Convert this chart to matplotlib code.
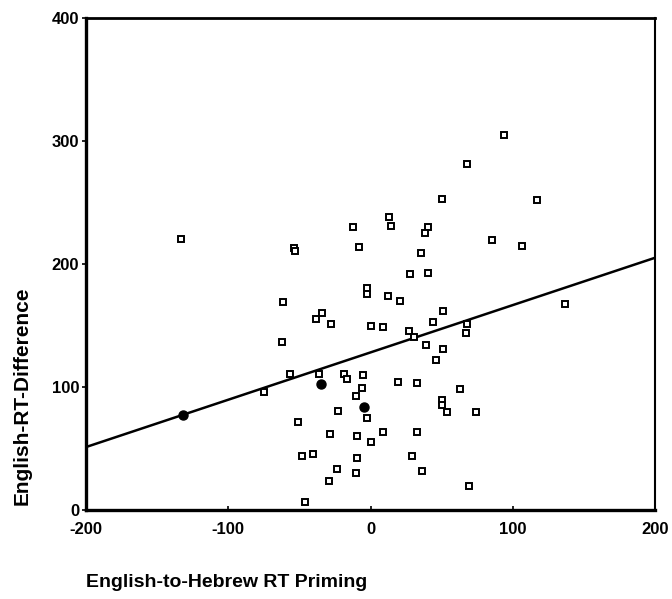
"""Scatter of English RT difference against English-to-Hebrew RT priming,
with the fitted regression line."""

import matplotlib
matplotlib.use("Agg")
import matplotlib.pyplot as plt
import numpy as np

plt.rcParams["font.family"] = ["Liberation Sans", "DejaVu Sans"]

# open-square subjects
priming = [
    -133.2, -53.8, -53.1, -12.3, -8.1, 13.0, 14.4, 93.9, 67.8, 50.3,
    117.1, 40.4, 38.3, 85.4, 106.5, 35.5, 27.8, 40.4, -2.5, -2.5,
    12.3, 20.7, -61.5, -34.1, -38.3, -27.8, 0.4, 8.8, 51.0, 43.9,
    67.8, 67.1, 27.1, 30.6, 39.0, 51.0, 46.1, -62.2, 136.7, -56.6,
    -36.2, -18.6, -16.5, -5.3, -6.0, -10.2, -2.5, -22.8, -74.9, 19.3,
    32.7, 62.9, 50.3, 50.3, 53.8, 74.2, -51.0, -28.5, -9.5, 0.4,
    8.8, 32.7, -48.2, -40.4, -9.5, 29.2, -23.5, -10.2, 36.2, -29.2,
    -46.0, 69.2,
]
rt_diff = [
    220.3, 212.6, 210.2, 230.1, 213.8, 238.2, 230.9, 304.9, 281.3, 252.8,
    252.0, 230.1, 225.2, 219.5, 214.6, 208.9, 191.9, 192.7, 180.5, 175.6,
    174.0, 169.9, 169.1, 160.2, 155.3, 151.2, 149.6, 148.8, 161.8, 152.8,
    151.2, 143.9, 145.5, 140.6, 134.1, 130.9, 122.0, 136.6, 167.5, 110.6,
    110.6, 110.6, 106.5, 109.8, 99.2, 92.7, 74.8, 80.5, 95.9, 104.1,
    103.3, 98.4, 89.4, 85.4, 79.7, 79.7, 71.5, 61.8, 60.2, 55.3,
    63.4, 63.4, 43.9, 45.5, 42.3, 43.9, 33.3, 30.1, 31.7, 23.6,
    6.5, 19.5,
]

# filled markers
filled_priming = [-131.8, -34.8, -4.6]
filled_rt_diff = [77.2, 102.4, 83.7]

# regression line end points
fit_x = [-200, 200]
fit_y = [51, 205]

x_ticks = [-200, -100, 0, 100, 200]
y_ticks = [0, 100, 200, 300, 400]

fig = plt.figure(figsize=(6.72, 5.99), dpi=100)
ax = fig.add_axes([0.128, 0.149, 0.847, 0.821])

ax.plot(fit_x, fit_y, color="black", linewidth=1.8, zorder=2)
ax.plot(priming, rt_diff, linestyle="none", marker="s", markersize=4.6,
        markerfacecolor="white", markeredgecolor="black", markeredgewidth=1.4,
        zorder=3)
ax.plot(filled_priming, filled_rt_diff, linestyle="none", marker="o",
        markersize=6.5, color="black", zorder=4)

ax.set_xlim(-200, 200)
ax.set_ylim(0, 400)
ax.set_xticks(x_ticks)
ax.set_yticks(y_ticks)
ax.set_xticklabels([str(v) for v in x_ticks], fontsize=12, fontweight="bold")
ax.set_yticklabels([str(v) for v in y_ticks], fontsize=12, fontweight="bold")
ax.tick_params(axis="y", direction="out", length=3, width=1.2, pad=2)
ax.tick_params(axis="x", direction="in", length=3, width=1.2, pad=9)

for side, lw in (("left", 2.4), ("bottom", 2.4), ("top", 2.0), ("right", 1.5)):
    ax.spines[side].set_linewidth(lw)

fig.text(0.128, 0.027, "English-to-Hebrew RT Priming", fontsize=14,
         fontweight="bold", ha="left", va="center")
fig.text(0.033, 0.34, "English-RT-Difference", fontsize=15,
         fontweight="bold", ha="center", va="center", rotation=90)

fig.savefig("out.png", dpi=100)
